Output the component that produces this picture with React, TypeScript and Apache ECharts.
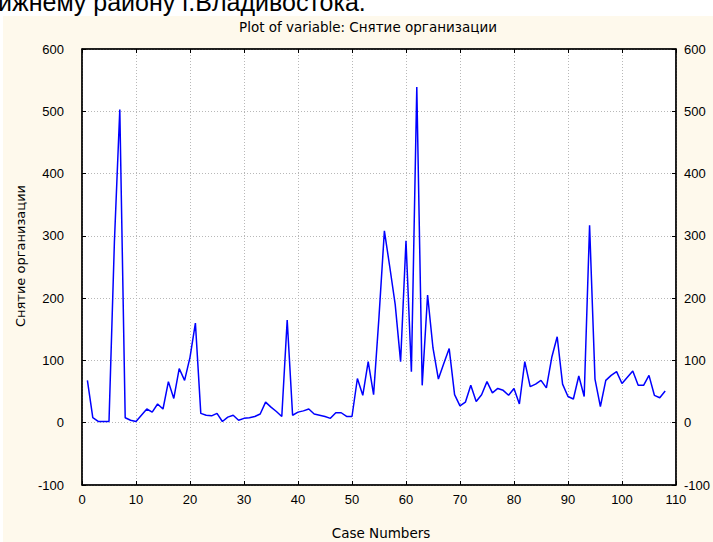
import React, { useEffect, useRef } from "react";
import * as echarts from "echarts";

const TITLE = "Plot of variable: Снятие организации";
const Y_NAME = "Снятие организации";
const X_NAME = "Case Numbers";
const TOP_TEXT = "ижнему району г.Владивостока.";

// values for case numbers 1..108
const values = [
  68, 8, 2, 2, 2, 290, 503, 8, 4, 2,
  12, 22, 17, 30, 22, 66, 39, 87, 68, 105,
  160, 15, 12, 11, 15, 2, 9, 12, 4, 7,
  8, 10, 14, 33, 25, 18, 10, 165, 12, 17,
  19, 22, 14, 12, 10, 7, 16, 16, 10, 10,
  71, 44, 98, 45, 170, 308, 250, 190, 98, 292,
  82, 539, 60, 205, 120, 70, 95, 119, 45, 27,
  33, 60, 34, 45, 66, 48, 55, 52, 44, 55,
  30, 98, 58, 62, 68, 56, 105, 138, 62, 42,
  38, 75, 42, 317, 70, 26, 68, 76, 82, 63,
  73, 83, 60, 60, 76, 44, 40, 51,
];

const X_MIN = 0;
const X_MAX = 110;
const X_STEP = 10;
const Y_MIN = -100;
const Y_MAX = 600;
const Y_STEP = 100;

const BEIGE = "#FEF9EC";
const FONT = "'Liberation Sans', Arial, sans-serif";
const TFONT = "'DejaVu Sans', Verdana, sans-serif";

export default function App() {
  const ref = useRef<HTMLDivElement>(null);
  useEffect(() => {
    document.body.style.margin = "0";
    const chart = echarts.init(ref.current!, null, { renderer: "svg" });
    const data = values.map((v, i) => [i + 1, v]);
    const axisCommon = {
      axisLine: { show: true, onZero: false, lineStyle: { color: "#000", width: 1.5 } },
      axisTick: { show: true, inside: true, length: 4, lineStyle: { color: "#000", width: 1 } },
    };
    chart.setOption({
      animation: false,
      backgroundColor: BEIGE,
      textStyle: { fontFamily: FONT },
      grid: {
        left: 82,
        right: 37,
        top: 49,
        bottom: 57,
        show: true,
        backgroundColor: "#ffffff",
        borderColor: "#000",
        borderWidth: 1,
      },
      xAxis: [
        {
          type: "value",
          min: X_MIN,
          max: X_MAX,
          interval: X_STEP,
          position: "bottom",
          ...axisCommon,
          axisLabel: { color: "#000", fontSize: 13, margin: 8, fontFamily: FONT },
          splitLine: { show: true, lineStyle: { color: "#b8b8b8", type: [1, 2], width: 1 } },
        },
        {
          type: "value",
          min: X_MIN,
          max: X_MAX,
          interval: X_STEP,
          position: "top",
          ...axisCommon,
          axisLabel: { show: false },
          splitLine: { show: false },
        },
      ],
      yAxis: [
        {
          type: "value",
          min: Y_MIN,
          max: Y_MAX,
          interval: Y_STEP,
          position: "left",
          ...axisCommon,
          axisLabel: { color: "#000", fontSize: 13, margin: 18, fontFamily: FONT },
          splitLine: { show: true, lineStyle: { color: "#b8b8b8", type: [1, 2], width: 1 } },
        },
        {
          type: "value",
          min: Y_MIN,
          max: Y_MAX,
          interval: Y_STEP,
          position: "right",
          ...axisCommon,
          axisLabel: { color: "#000", fontSize: 13, margin: 8, fontFamily: FONT },
          splitLine: { show: false },
        },
      ],
      series: [
        {
          type: "line",
          data,
          xAxisIndex: 0,
          yAxisIndex: 0,
          showSymbol: false,
          symbol: "none",
          lineStyle: { color: "#0000FF", width: 1.5 },
          itemStyle: { color: "#0000FF" },
        },
      ],
      graphic: [
        { type: "rect", shape: { x: 0, y: 0, width: 713, height: 16 }, style: { fill: "#ffffff" }, z: -1 },
        { type: "rect", shape: { x: 0, y: 0, width: 3, height: 542 }, style: { fill: "#ffffff" }, z: -1 },
        {
          type: "text",
          x: -2,
          y: 2,
          style: { text: TOP_TEXT, font: "25px 'Liberation Sans', Arial, sans-serif", fill: "#000", verticalAlign: "middle", align: "left" },
        },
        {
          type: "text",
          x: 368,
          y: 27,
          style: { text: TITLE, font: `13.5px ${TFONT}`, fill: "#000", align: "center", verticalAlign: "middle" },
        },
        {
          type: "text",
          x: 381,
          y: 533,
          style: { text: X_NAME, font: `13.5px ${TFONT}`, fill: "#000", align: "center", verticalAlign: "middle" },
        },
        {
          type: "text",
          x: 20,
          y: 256,
          rotation: Math.PI / 2,
          style: { text: Y_NAME, font: `13px ${TFONT}`, fill: "#000", align: "center", verticalAlign: "middle" },
        },
      ],
    });
    return () => chart.dispose();
  }, []);
  return <div ref={ref} style={{ width: 713, height: 542 }} />;
}
